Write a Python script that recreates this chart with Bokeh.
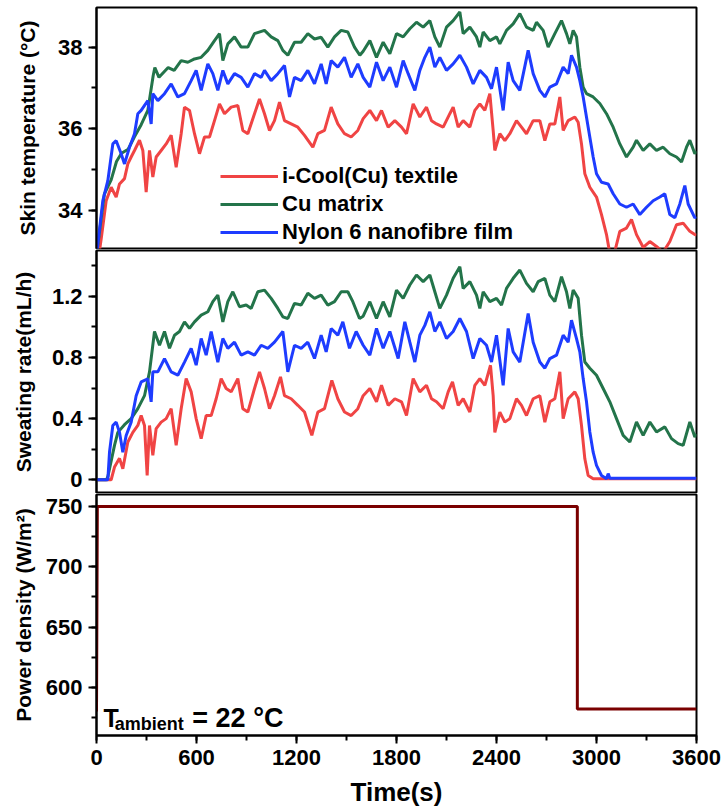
from bokeh.plotting import figure
from bokeh.layouts import column
from bokeh.models import Range1d, SingleIntervalTicker, Legend, LegendItem, Label
from bokeh.embed import file_html
from bokeh.resources import INLINE

# ---------------- data ----------------
temp_t_icool = [0, 28, 58, 88, 118, 138, 168, 188, 208, 228, 258, 278, 298, 318, 338, 358, 388, 418, 448, 478,
                508, 528, 558, 588, 618, 648, 678, 708, 738, 768, 808, 848, 878, 908, 948, 978, 1008, 1038, 1068,
                1098, 1128, 1168, 1208, 1248, 1298, 1328, 1368, 1408, 1448, 1488, 1528, 1568, 1600, 1640, 1680,
                1710, 1750, 1790, 1830, 1860, 1900, 1940, 1980, 2010, 2040, 2080, 2120, 2140, 2170, 2200, 2240,
                2270, 2300, 2330, 2360, 2380, 2390, 2420, 2450, 2480, 2520, 2550, 2580, 2620, 2660, 2690, 2720,
                2750, 2780, 2800, 2830, 2870, 2890, 2910, 2930, 2960, 3000, 3030, 3060, 3080, 3110, 3140, 3180,
                3210, 3240, 3280, 3320, 3360, 3400, 3440, 3480, 3520, 3560, 3590, 3600]
temp_icool = [32.5, 33.3, 34.24, 34.57, 34.33, 34.65, 34.78, 35.14, 35.31, 35.47, 35.72, 35.47, 34.45, 35.47,
              34.82, 35.31, 35.47, 35.63, 35.84, 35.06, 35.88, 36.53, 36.45, 35.88, 35.39, 35.8, 35.8, 36.2,
              36.61, 36.37, 36.53, 36.57, 35.96, 35.88, 36.37, 36.73, 36.37, 35.96, 36.2, 36.65, 36.2, 36.12,
              36.04, 35.84, 35.55, 35.88, 35.96, 36.53, 36.12, 35.88, 35.8, 35.96, 36.25, 36.45, 36.2, 36.45,
              36.04, 36.2, 36.04, 35.88, 36.61, 36.29, 36.53, 36.2, 36.12, 36.04, 36.37, 36.53, 36.04, 36.2,
              36.04, 36.45, 36.61, 36.45, 36.86, 35.96, 35.47, 35.88, 35.71, 35.88, 36.2, 36.04, 35.88, 36.2,
              36.2, 35.71, 36.12, 36.12, 36.78, 35.96, 36.2, 36.29, 36.16, 35.63, 34.9, 34.57, 34.33, 33.9,
              33.41, 32.95, 33.0, 33.49, 33.57, 33.78, 33.41, 33.1, 33.24, 33.12, 32.98, 33.24, 33.65, 33.69,
              33.49, 33.41, 33.4]

temp_t_cu = [0, 47, 88, 120, 150, 190, 227, 268, 308, 340, 350, 375, 430, 466, 508, 548, 588, 628, 668, 708,
             738, 758, 788, 828, 868, 908, 948, 1008, 1048, 1088, 1118, 1148, 1188, 1228, 1268, 1308, 1348, 1388,
             1428, 1468, 1508, 1548, 1580, 1600, 1640, 1680, 1720, 1760, 1800, 1840, 1880, 1920, 1960, 2000,
             2030, 2060, 2100, 2140, 2180, 2200, 2240, 2280, 2300, 2320, 2360, 2400, 2420, 2460, 2500, 2540,
             2580, 2620, 2640, 2680, 2710, 2750, 2790, 2820, 2840, 2860, 2880, 2900, 2920, 2940, 2980, 3020,
             3060, 3100, 3140, 3180, 3220, 3240, 3280, 3320, 3360, 3400, 3440, 3480, 3510, 3540, 3560, 3590, 3600]
temp_cu = [32.9, 34.4, 34.75, 35.2, 35.4, 35.5, 35.8, 36.1, 36.45, 37.3, 37.5, 37.26, 37.5, 37.43, 37.67, 37.63,
           37.71, 37.75, 37.92, 38.16, 38.33, 37.67, 38.08, 38.25, 38.0, 38.0, 38.33, 38.41, 38.25, 38.16, 37.92,
           37.8, 38.12, 38.12, 38.33, 38.2, 38.24, 38.0, 38.25, 38.41, 38.37, 38.0, 37.8, 37.9, 38.16, 37.75,
           38.12, 37.84, 38.33, 38.25, 38.45, 38.61, 38.49, 38.65, 38.25, 38.0, 38.49, 38.65, 38.86, 38.33,
           38.49, 38.25, 38.0, 38.37, 38.16, 38.25, 38.08, 38.41, 38.57, 38.82, 38.49, 38.41, 38.61, 38.41, 38.0,
           38.33, 38.65, 38.33, 38.08, 38.41, 38.25, 37.51, 37.02, 36.86, 36.78, 36.62, 36.37, 36.04, 35.63,
           35.31, 35.55, 35.72, 35.47, 35.63, 35.47, 35.55, 35.39, 35.31, 35.19, 35.55, 35.72, 35.39, 35.45]

temp_t_nylon = [0, 38, 68, 98, 118, 148, 168, 198, 228, 248, 268, 308, 328, 338, 368, 408, 448, 488, 528, 568,
                598, 628, 668, 698, 728, 758, 788, 828, 868, 908, 948, 988, 1008, 1048, 1088, 1128, 1158, 1188,
                1228, 1268, 1308, 1348, 1378, 1408, 1448, 1488, 1528, 1568, 1600, 1640, 1680, 1720, 1760, 1800,
                1840, 1870, 1910, 1940, 1970, 2000, 2030, 2060, 2100, 2140, 2180, 2220, 2260, 2300, 2340, 2370,
                2400, 2440, 2470, 2500, 2540, 2590, 2620, 2660, 2690, 2720, 2760, 2800, 2830, 2850, 2880, 2900,
                2920, 2950, 2980, 3000, 3030, 3070, 3100, 3140, 3180, 3220, 3260, 3300, 3340, 3380, 3410, 3440,
                3470, 3500, 3530, 3550, 3590, 3600]
temp_nylon = [32.9, 34.24, 34.73, 35.63, 35.71, 35.39, 35.14, 35.55, 35.88, 36.37, 36.45, 36.69, 36.12, 36.86,
              36.69, 36.86, 37.1, 36.78, 36.86, 37.18, 37.43, 36.94, 37.59, 37.35, 36.94, 37.43, 37.1, 37.35,
              37.26, 37.02, 37.35, 37.26, 37.43, 37.18, 37.35, 37.55, 36.78, 37.26, 37.18, 37.43, 37.1, 37.59,
              37.1, 37.67, 37.51, 37.75, 37.26, 37.59, 37.26, 37.02, 37.63, 37.18, 37.51, 37.02, 37.67, 37.35,
              36.94, 37.43, 37.75, 38.0, 37.51, 37.75, 37.43, 37.59, 37.8, 37.51, 37.1, 37.43, 37.26, 36.98,
              37.51, 36.45, 37.63, 37.18, 36.94, 37.92, 37.35, 36.94, 36.78, 37.02, 37.1, 37.51, 37.35, 37.8,
              37.51, 37.18, 36.78, 36.04, 35.31, 34.9, 34.69, 34.65, 34.41, 34.16, 34.08, 34.16, 33.9, 34.08,
              34.24, 34.33, 34.41, 33.9, 33.82, 34.16, 34.61, 34.16, 33.82, 33.85]

sweat_t_icool = [0, 88, 108, 138, 158, 188, 218, 248, 268, 288, 304, 318, 338, 358, 388, 418, 448, 478, 508,
                 538, 568, 598, 628, 658, 688, 718, 748, 778, 808, 848, 878, 908, 948, 978, 1008, 1038, 1068,
                 1104, 1128, 1168, 1208, 1248, 1292, 1328, 1368, 1412, 1448, 1488, 1528, 1568, 1600, 1640, 1680,
                 1710, 1750, 1790, 1830, 1860, 1900, 1940, 1980, 2010, 2040, 2080, 2110, 2136, 2170, 2200, 2240,
                 2270, 2300, 2330, 2364, 2380, 2390, 2420, 2450, 2480, 2520, 2550, 2580, 2620, 2660, 2690, 2720,
                 2750, 2780, 2800, 2830, 2870, 2890, 2910, 2930, 2950, 2980, 3600]
sweat_icool = [0.0, 0.0, 0.083, 0.14, 0.072, 0.247, 0.31, 0.355, 0.42, 0.355, 0.028, 0.355, 0.16, 0.335, 0.377,
               0.40, 0.465, 0.225, 0.465, 0.662, 0.575, 0.40, 0.269, 0.42, 0.42, 0.53, 0.662, 0.597, 0.575,
               0.662, 0.465, 0.443, 0.597, 0.706, 0.597, 0.465, 0.55, 0.673, 0.55, 0.53, 0.487, 0.443, 0.29,
               0.443, 0.465, 0.65, 0.53, 0.443, 0.42, 0.465, 0.55, 0.597, 0.51, 0.618, 0.487, 0.53, 0.51, 0.42,
               0.662, 0.575, 0.618, 0.53, 0.51, 0.465, 0.575, 0.64, 0.487, 0.53, 0.443, 0.618, 0.662, 0.618,
               0.749, 0.55, 0.31, 0.443, 0.377, 0.40, 0.53, 0.487, 0.42, 0.53, 0.55, 0.377, 0.51, 0.53, 0.706,
               0.40, 0.53, 0.575, 0.53, 0.355, 0.137, 0.028, 0.007, 0.007]

sweat_t_cu = [0, 60, 68, 108, 128, 168, 208, 248, 288, 318, 348, 378, 408, 438, 468, 498, 528, 558, 588, 628,
              668, 698, 728, 758, 788, 818, 858, 898, 928, 968, 1008, 1048, 1088, 1118, 1148, 1188, 1228, 1268,
              1308, 1348, 1388, 1428, 1468, 1508, 1538, 1578, 1600, 1640, 1680, 1720, 1760, 1800, 1840, 1880,
              1920, 1960, 2000, 2030, 2060, 2100, 2140, 2180, 2200, 2240, 2280, 2300, 2320, 2360, 2400, 2430,
              2460, 2500, 2540, 2580, 2620, 2650, 2690, 2720, 2750, 2790, 2820, 2840, 2860, 2890, 2910, 2930,
              2960, 3000, 3040, 3080, 3120, 3160, 3200, 3240, 3280, 3320, 3360, 3410, 3450, 3490, 3520, 3560,
              3590, 3600]
sweat_cu = [0.0, 0.0, 0.02, 0.225, 0.31, 0.36, 0.40, 0.465, 0.55, 0.706, 0.97, 0.88, 0.97, 0.86, 0.946, 0.97,
            1.033, 0.99, 1.033, 1.077, 1.099, 1.165, 1.208, 1.033, 1.165, 1.23, 1.132, 1.143, 1.121, 1.23, 1.241,
            1.187, 1.121, 1.066, 1.055, 1.154, 1.143, 1.22, 1.187, 1.208, 1.143, 1.165, 1.23, 1.23, 1.165, 1.055,
            1.07, 1.165, 1.055, 1.165, 1.066, 1.241, 1.187, 1.274, 1.34, 1.296, 1.34, 1.23, 1.121, 1.208, 1.318,
            1.394, 1.252, 1.296, 1.208, 1.121, 1.23, 1.165, 1.187, 1.143, 1.252, 1.318, 1.372, 1.285, 1.23,
            1.296, 1.318, 1.208, 1.165, 1.329, 1.23, 1.121, 1.241, 1.187, 0.946, 0.77, 0.73, 0.684, 0.597, 0.51,
            0.40, 0.29, 0.247, 0.378, 0.29, 0.378, 0.313, 0.346, 0.269, 0.236, 0.225, 0.378, 0.28, 0.3]

sweat_t_nylon = [0, 68, 78, 98, 118, 138, 158, 178, 208, 238, 268, 308, 328, 338, 368, 408, 448, 488, 528, 568,
                 598, 628, 658, 688, 728, 758, 788, 828, 868, 908, 948, 988, 1028, 1068, 1118, 1148, 1188, 1228,
                 1268, 1308, 1348, 1378, 1408, 1448, 1478, 1518, 1558, 1600, 1640, 1680, 1720, 1760, 1810, 1850,
                 1880, 1910, 1940, 1970, 2000, 2030, 2060, 2100, 2140, 2180, 2220, 2260, 2300, 2340, 2370, 2400,
                 2440, 2470, 2500, 2540, 2590, 2620, 2660, 2690, 2720, 2760, 2800, 2830, 2850, 2880, 2900, 2920,
                 2940, 2960, 2980, 3000, 3030, 3060, 3070, 3080, 3600]
sweat_nylon = [0.0, 0.0, 0.18, 0.355, 0.377, 0.31, 0.18, 0.29, 0.377, 0.55, 0.64, 0.66, 0.51, 0.706, 0.706,
               0.793, 0.706, 0.684, 0.77, 0.86, 0.75, 0.924, 0.815, 0.97, 0.77, 0.924, 0.86, 0.9, 0.815, 0.837,
               0.815, 0.88, 0.86, 0.9, 0.97, 0.706, 0.88, 0.86, 0.9, 0.793, 0.946, 0.837, 0.99, 0.946, 1.033,
               0.86, 0.97, 0.88, 0.815, 0.99, 0.86, 0.97, 0.793, 1.033, 0.9, 0.77, 0.946, 1.01, 1.099, 0.97,
               1.033, 0.924, 0.97, 1.055, 0.97, 0.793, 0.924, 0.88, 0.77, 0.946, 0.618, 0.99, 0.837, 0.77,
               1.088, 0.9, 0.77, 0.73, 0.793, 0.815, 0.946, 0.9, 1.044, 0.924, 0.837, 0.662, 0.51, 0.313, 0.18,
               0.094, 0.028, 0.007, 0.04, 0.01, 0.01]

power_t = [0, 5, 2885, 2885, 3600]
power = [580, 750, 750, 582, 582]

series_names = ["i-Cool(Cu) textile", "Cu matrix", "Nylon 6 nanofibre film"]
colors = ["#F04444", "#23744A", "#1E3CFF"]
power_color = "#7A0000"

FONT = "Liberation Sans"
W = 724
xr = Range1d(0, 3600)


def style(p, yticker, ylabel, label_standoff):
    p.toolbar_location = None
    p.xgrid.visible = False
    p.ygrid.visible = False
    p.outline_line_color = "black"
    p.outline_line_width = 2
    p.outline_line_alpha = 1
    p.background_fill_color = "white"
    p.border_fill_color = "white"
    p.min_border_left = 96
    p.min_border_right = 28
    for ax in p.axis:
        ax.axis_line_width = 2
        ax.major_tick_line_width = 2
        ax.minor_tick_line_width = 2
        ax.major_tick_in = 0
        ax.major_tick_out = 8
        ax.minor_tick_in = 0
        ax.minor_tick_out = 5
        ax.major_label_text_font = FONT
        ax.major_label_text_font_style = "bold"
        ax.major_label_text_font_size = "22px"
        ax.major_label_text_color = "black"
        ax.axis_label_text_font = FONT
        ax.axis_label_text_font_style = "bold"
        ax.axis_label_text_color = "black"
        ax.major_label_standoff = 6
    p.yaxis.ticker = yticker
    p.yaxis.axis_label = ylabel
    p.yaxis.axis_label_text_font_size = "21px"
    p.yaxis.axis_label_standoff = label_standoff


# ---- panel 1: skin temperature
p1 = figure(width=W, height=249, x_range=xr, y_range=Range1d(33.07, 38.97),
            output_backend="svg", toolbar_location=None, x_axis_location=None)
style(p1, SingleIntervalTicker(interval=2, num_minor_ticks=2), "Skin temperature (°C)", 16)
p1.min_border_top = 7
p1.min_border_bottom = 1
r1 = p1.line(temp_t_icool, temp_icool, line_color=colors[0], line_width=3)
r2 = p1.line(temp_t_cu, temp_cu, line_color=colors[1], line_width=3)
r3 = p1.line(temp_t_nylon, temp_nylon, line_color=colors[2], line_width=3)
legend = Legend(items=[LegendItem(label=series_names[0], renderers=[r1]),
                       LegendItem(label=series_names[1], renderers=[r2]),
                       LegendItem(label=series_names[2], renderers=[r3])],
                location=(124, 2))
legend.border_line_alpha = 0
legend.background_fill_alpha = 0
legend.padding = 0
legend.margin = 0
legend.spacing = 0
legend.glyph_width = 58
legend.glyph_height = 28
legend.label_height = 28
legend.label_standoff = 4
legend.label_text_font = FONT
legend.label_text_font_style = "bold"
legend.label_text_font_size = "22px"
legend.label_text_color = "black"
p1.add_layout(legend)

# ---- panel 2: sweating rate
p2 = figure(width=W, height=244, x_range=xr, y_range=Range1d(-0.09, 1.5),
            output_backend="svg", toolbar_location=None, x_axis_location=None)
style(p2, SingleIntervalTicker(interval=0.4, num_minor_ticks=2), "Sweating rate(mL/h)", 14)
p2.min_border_top = 1
p2.min_border_bottom = 0
p2.line(sweat_t_icool, sweat_icool, line_color=colors[0], line_width=3)
p2.line(sweat_t_cu, sweat_cu, line_color=colors[1], line_width=3)
p2.line(sweat_t_nylon, sweat_nylon, line_color=colors[2], line_width=3)

# ---- panel 3: power density
p3 = figure(width=W, height=316, x_range=xr, y_range=Range1d(560, 760),
            output_backend="svg", toolbar_location=None)
style(p3, SingleIntervalTicker(interval=50, num_minor_ticks=2), "Power density (W/m²)", 8)
p3.min_border_top = 1
p3.min_border_bottom = 74
p3.xaxis.ticker = SingleIntervalTicker(interval=600, num_minor_ticks=2)
p3.xaxis.axis_label = "Time(s)"
p3.xaxis.axis_label_text_font_size = "26px"
p3.xaxis.axis_label_standoff = 9
p3.line(power_t, power, line_color=power_color, line_width=3)

lab_kw = dict(text_font=FONT, text_font_style="bold", text_color="black", text_baseline="alphabetic")
p3.add_layout(Label(x=42, y=574.8, text="T", text_font_size="25px", **lab_kw))
p3.add_layout(Label(x=110, y=569.5, text="ambient", text_font_size="18px", **lab_kw))
p3.add_layout(Label(x=575, y=574.8, text="= 22 °C", text_font_size="27px", **lab_kw))

layout = column(p1, p2, p3, spacing=0)
open("out.html", "w").write(file_html(layout, INLINE))
